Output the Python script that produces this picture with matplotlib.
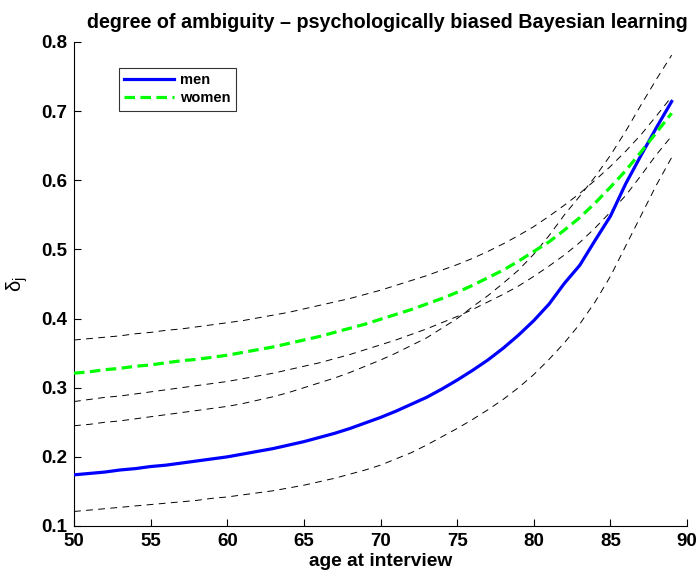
import matplotlib
matplotlib.use("Agg")
import matplotlib.pyplot as plt
import numpy as np

plt.rcParams['font.family'] = ['Liberation Sans', 'DejaVu Sans']
plt.rcParams['mathtext.fontset'] = 'custom'
plt.rcParams['mathtext.rm'] = 'Liberation Sans'
plt.rcParams['mathtext.it'] = 'Liberation Sans'

ages = list(range(50, 90))

men = [0.174, 0.176, 0.178, 0.181, 0.183, 0.186, 0.188, 0.191, 0.194, 0.197,
       0.200, 0.204, 0.208, 0.212, 0.217, 0.222, 0.228, 0.234, 0.241, 0.249,
       0.257, 0.266, 0.276, 0.286, 0.298, 0.311, 0.325, 0.340, 0.357, 0.376,
       0.397, 0.421, 0.451, 0.477, 0.513, 0.548, 0.595, 0.636, 0.676, 0.714]

men_lower = [0.121, 0.123, 0.125, 0.127, 0.129, 0.131, 0.133, 0.135, 0.137, 0.140,
             0.142, 0.145, 0.148, 0.151, 0.155, 0.159, 0.164, 0.169, 0.175, 0.181,
             0.188, 0.197, 0.206, 0.217, 0.229, 0.241, 0.254, 0.268, 0.283, 0.300,
             0.319, 0.341, 0.365, 0.392, 0.424, 0.461, 0.505, 0.549, 0.593, 0.633]

men_upper = [0.245, 0.247, 0.250, 0.252, 0.255, 0.258, 0.261, 0.264, 0.267, 0.270,
             0.273, 0.277, 0.282, 0.287, 0.293, 0.300, 0.307, 0.314, 0.322, 0.331,
             0.340, 0.350, 0.361, 0.372, 0.386, 0.400, 0.417, 0.433, 0.451, 0.470,
             0.493, 0.520, 0.550, 0.577, 0.605, 0.636, 0.671, 0.709, 0.746, 0.781]

women = [0.321, 0.323, 0.326, 0.328, 0.331, 0.333, 0.336, 0.339, 0.341, 0.344,
         0.347, 0.351, 0.355, 0.359, 0.364, 0.369, 0.374, 0.380, 0.386, 0.392,
         0.399, 0.406, 0.413, 0.421, 0.429, 0.438, 0.448, 0.459, 0.470, 0.483,
         0.497, 0.511, 0.528, 0.546, 0.567, 0.590, 0.614, 0.641, 0.669, 0.697]

women_lower = [0.280, 0.283, 0.286, 0.288, 0.291, 0.294, 0.297, 0.300, 0.303, 0.306,
               0.309, 0.313, 0.317, 0.321, 0.326, 0.331, 0.336, 0.342, 0.348, 0.355,
               0.362, 0.369, 0.377, 0.385, 0.394, 0.403, 0.413, 0.424, 0.435, 0.447,
               0.461, 0.476, 0.492, 0.510, 0.531, 0.554, 0.578, 0.607, 0.637, 0.664]

women_upper = [0.369, 0.371, 0.373, 0.375, 0.378, 0.380, 0.383, 0.385, 0.388, 0.391,
               0.394, 0.397, 0.401, 0.405, 0.409, 0.414, 0.419, 0.424, 0.429, 0.435,
               0.441, 0.448, 0.455, 0.462, 0.470, 0.478, 0.487, 0.497, 0.508, 0.520,
               0.533, 0.548, 0.564, 0.581, 0.600, 0.620, 0.642, 0.666, 0.693, 0.721]

xticks = [50, 55, 60, 65, 70, 75, 80, 85, 90]
yticks = [0.1, 0.2, 0.3, 0.4, 0.5, 0.6, 0.7, 0.8]

fig = plt.figure(figsize=(6.99, 5.71), dpi=100)
ax = fig.add_axes([74/699, 45/571, (687-74)/699, (526-42)/571])

thin = dict(color='black', lw=0.7, dashes=(7, 5.5))
ax.plot(ages, men, color='#0000ff', lw=2.3, label='men', zorder=3)
ax.plot(ages, women, color='#00ff00', lw=2.3, dashes=(3.3, 1.7), label='women', zorder=3)
for band in (men_lower, men_upper, women_lower, women_upper):
    ax.plot(ages, band, **thin, zorder=2)

ax.set_xlim(50, 90)
ax.set_ylim(0.1, 0.8)
ax.set_xticks(xticks)
ax.set_yticks(yticks)
ax.set_xticklabels([str(t) for t in xticks])
ax.set_yticklabels([f'{t:.1f}' for t in yticks])
ax.tick_params(direction='in', length=5, width=0.8, labelsize=13.5, pad=5)
for lab in ax.get_xticklabels() + ax.get_yticklabels():
    lab.set_fontweight('bold')
ax.spines['top'].set_visible(False)
ax.spines['right'].set_visible(False)
ax.spines['left'].set_linewidth(0.8)
ax.spines['bottom'].set_linewidth(0.8)

ax.set_title('degree of ambiguity \u2013 psychologically biased Bayesian learning',
             fontsize=14.2, fontweight='bold', pad=10, x=0.512)
ax.set_xlabel('age at interview', fontsize=13.8, fontweight='bold', labelpad=2)
ax.set_ylabel(r'$\delta_j$', fontsize=14.5, labelpad=8)

leg = ax.legend(loc='upper left', bbox_to_anchor=(45/613, 1 - 26/484),
                prop={'weight': 'bold', 'size': 10.5}, frameon=True, fancybox=False,
                edgecolor='black', handlelength=3.4, handletextpad=0.45,
                borderpad=0.35, labelspacing=0.3, borderaxespad=0)
leg.get_frame().set_linewidth(0.8)

fig.savefig('out.png', dpi=100)
